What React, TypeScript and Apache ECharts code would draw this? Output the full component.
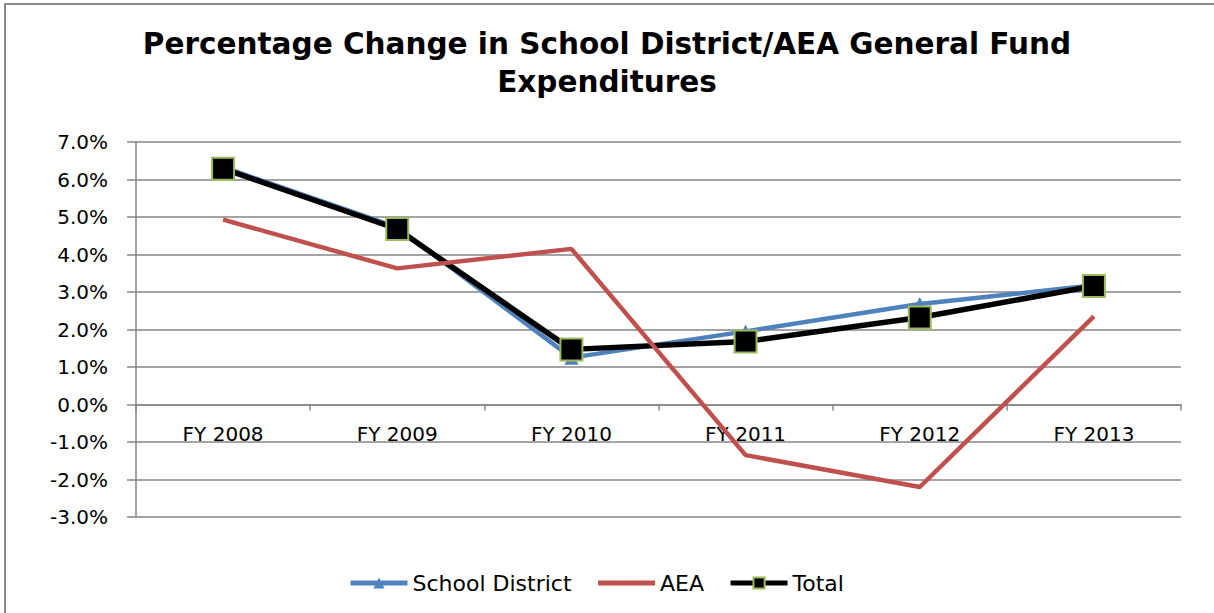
import React, { useEffect, useRef } from "react";
import * as echarts from "echarts";

const categories = ["FY 2008", "FY 2009", "FY 2010", "FY 2011", "FY 2012", "FY 2013"];
const schoolDistrict = [6.33, 4.72, 1.25, 1.95, 2.68, 3.18];
const aea = [4.93, 3.63, 4.15, -1.35, -2.2, 2.35];
const total = [6.29, 4.68, 1.47, 1.68, 2.32, 3.16];

const FONT = "DejaVu Sans";

export default function App() {
  const ref = useRef<HTMLDivElement>(null);
  useEffect(() => {
    document.body.style.margin = "0";
    const chart = echarts.init(ref.current!, null, { renderer: "svg" });
    chart.setOption({
      animation: false,
      backgroundColor: "#ffffff",
      title: {
        text: "Percentage Change in School District/AEA General Fund\nExpenditures",
        left: "center",
        top: 20,
        textStyle: { fontFamily: FONT, fontWeight: "bold", fontSize: 29.5, lineHeight: 38, color: "#000" },
      },
      graphic: [
        {
          type: "rect",
          shape: { x: 5, y: 4, width: 1240, height: 700 },
          style: { fill: "none", stroke: "#8a8a8a", lineWidth: 2 },
          silent: true,
        },
      ],
      legend: {
        bottom: 14,
        left: 343,
        itemWidth: 57,
        itemHeight: 14,
        itemGap: 24,
        lineStyle: { width: 5 },
        textStyle: { fontFamily: FONT, fontSize: 22, color: "#000" },
        data: [
          { name: "School District", lineStyle: { width: 5 } },
          { name: "AEA", lineStyle: { width: 5 }, itemStyle: { opacity: 0 } },
          { name: "Total", lineStyle: { width: 5 } },
        ],
      },
      grid: { left: 136, right: 33, top: 142, bottom: 96 },
      xAxis: {
        type: "category",
        data: categories,
        boundaryGap: true,
        offset: -112.5,
        axisLine: { onZero: false, lineStyle: { color: "#868686", width: 1.5 } },
        axisTick: { show: true, length: 6, lineStyle: { color: "#868686", width: 1.5 } },
        axisLabel: { fontFamily: FONT, fontSize: 20, color: "#000", margin: 19 },
      },
      yAxis: {
        type: "value",
        min: -3,
        max: 7,
        interval: 1,
        axisLine: { show: true, lineStyle: { color: "#868686", width: 1.5 } },
        axisTick: { show: true, length: 9, lineStyle: { color: "#868686", width: 1.5 } },
        axisLabel: {
          fontFamily: FONT,
          fontSize: 20,
          color: "#000",
          margin: 28,
          formatter: (v: number) => v.toFixed(1) + "%",
        },
        splitLine: { show: true, lineStyle: { color: "#868686", width: 1.5 } },
      },
      series: [
        {
          name: "School District",
          type: "line",
          data: schoolDistrict,
          symbol: "triangle",
          symbolSize: 14,
          z: 2,
          lineStyle: { color: "#4F81BD", width: 4.5 },
          itemStyle: { color: "#4F81BD" },
        },
        {
          name: "Total",
          type: "line",
          data: total,
          symbol: "rect",
          symbolSize: 22,
          z: 3,
          lineStyle: { color: "#000000", width: 5.5 },
          itemStyle: { color: "#000000", borderColor: "#9BBB59", borderWidth: 2 },
        },
        {
          name: "AEA",
          type: "line",
          data: aea,
          symbol: "none",
          z: 4,
          lineStyle: { color: "#C0504D", width: 4.5 },
          itemStyle: { color: "#C0504D" },
        },
      ],
    });
    return () => chart.dispose();
  }, []);
  return <div ref={ref} style={{ width: 1214, height: 613 }} />;
}
